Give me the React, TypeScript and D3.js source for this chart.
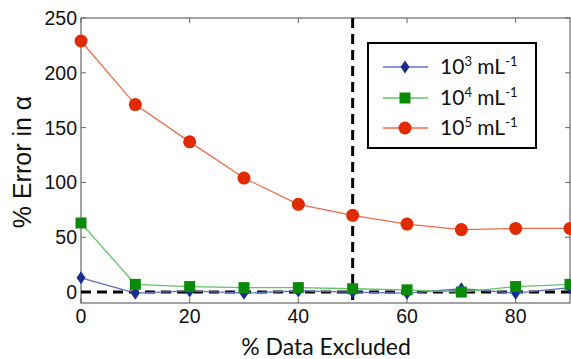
import React from "react";
import * as d3 from "d3";

const xValues = [0, 10, 20, 30, 40, 50, 60, 70, 80, 90];
const series1e3 = [13, -1, 1, -1, 1, 0, -1, 3, -1, 4];
const series1e4 = [63, 7, 5, 4, 4, 3, 2, 0, 5, 7];
const series1e5 = [229, 171, 137, 104, 80, 70, 62, 57, 58, 58];
const xTicks = [0, 20, 40, 60, 80];
const yTicks = [0, 50, 100, 150, 200, 250];
const legendExp = ["3", "4", "5"];

const W = 571, H = 359;
const L = 81, R = 570, T = 18, B = 303;

export default function App() {
  const x = d3.scaleLinear().domain([0, 90]).range([L, R]);
  const y = d3.scaleLinear().domain([-10, 250]).range([B, T]);
  const line = d3.line<number>().x((_, i) => x(xValues[i])).y((d) => y(d));

  const seriesDefs = [
    { data: series1e3, line: "#5b6fc8", fill: "#1a2f8f", kind: "diamond" },
    { data: series1e4, line: "#66c266", fill: "#0a8a0a", kind: "square" },
    { data: series1e5, line: "#f26a4a", fill: "#e02a00", kind: "circle" },
  ];

  const marker = (kind: string, cx: number, cy: number, fill: string, key: any) => {
    if (kind === "circle") return <circle key={key} cx={cx} cy={cy} r={6.5} fill={fill} />;
    if (kind === "square") return <rect key={key} x={cx - 5.5} y={cy - 5.5} width={11} height={11} fill={fill} />;
    return <path key={key} d={`M${cx},${cy - 6.5}L${cx + 4.5},${cy}L${cx},${cy + 6.5}L${cx - 4.5},${cy}Z`} fill={fill} />;
  };

  const axisColor = "#666";
  const legendRows = [67, 98, 128];

  return (
    <svg width={W} height={H} style={{ position: "absolute", left: 0, top: 0 }} fontFamily="'Liberation Sans', Arial, sans-serif">
      <rect width={W} height={H} fill="#fff" />
      <rect x={L} y={T} width={R - L} height={B - T} fill="none" stroke={axisColor} strokeWidth={1.2} />
      {xTicks.map((t) => (
        <g key={"x" + t}>
          <line x1={x(t)} x2={x(t)} y1={B} y2={B - 5} stroke={axisColor} />
          <line x1={x(t)} x2={x(t)} y1={T} y2={T + 5} stroke={axisColor} />
          <text x={x(t)} y={B + 20} fontSize={19.5} textAnchor="middle" fill="#111">{t}</text>
        </g>
      ))}
      {yTicks.map((t) => (
        <g key={"y" + t}>
          <line x1={L} x2={L + 5} y1={y(t)} y2={y(t)} stroke={axisColor} />
          <line x1={R} x2={R - 5} y1={y(t)} y2={y(t)} stroke={axisColor} />
          <text x={L - 4} y={y(t) + 7} fontSize={19.5} textAnchor="end" fill="#111">{t}</text>
        </g>
      ))}
      <line x1={L} x2={R} y1={y(0)} y2={y(0)} stroke="#000" strokeWidth={3} strokeDasharray="10 6" />
      <line x1={x(50)} x2={x(50)} y1={T} y2={B} stroke="#000" strokeWidth={3} strokeDasharray="10 6" />
      {seriesDefs.map((s, si) => (
        <g key={"s" + si}>
          <path d={line(s.data) || ""} fill="none" stroke={s.line} strokeWidth={1.3} />
          {s.data.map((v, i) => marker(s.kind, x(xValues[i]), y(v), s.fill, i))}
        </g>
      ))}
      <rect x={368} y={43} width={168} height={105} fill="#fff" stroke="#000" strokeWidth={2} />
      {seriesDefs.map((s, i) => (
        <g key={"l" + i}>
          <line x1={383} x2={428} y1={legendRows[i]} y2={legendRows[i]} stroke={s.line} strokeWidth={1.3} />
          {marker(s.kind, 405, legendRows[i], s.fill, "m")}
          <text x={440} y={legendRows[i] + 7} fontSize={21} fontFamily="Lato, 'Open Sans', sans-serif" fill="#111">
            10<tspan dy={-8} fontSize={13}>{legendExp[i]}</tspan>
            <tspan dy={8}> mL</tspan>
            <tspan dy={-8} fontSize={13}>-1</tspan>
          </text>
        </g>
      ))}
      <text x={326} y={355} fontSize={23} textAnchor="middle" fontFamily="Lato, 'Open Sans', sans-serif" fill="#111">% Data Excluded</text>
      <text transform={`translate(31,162) rotate(-90)`} fontSize={25} textAnchor="middle" fill="#111">% Error in α</text>
    </svg>
  );
}
